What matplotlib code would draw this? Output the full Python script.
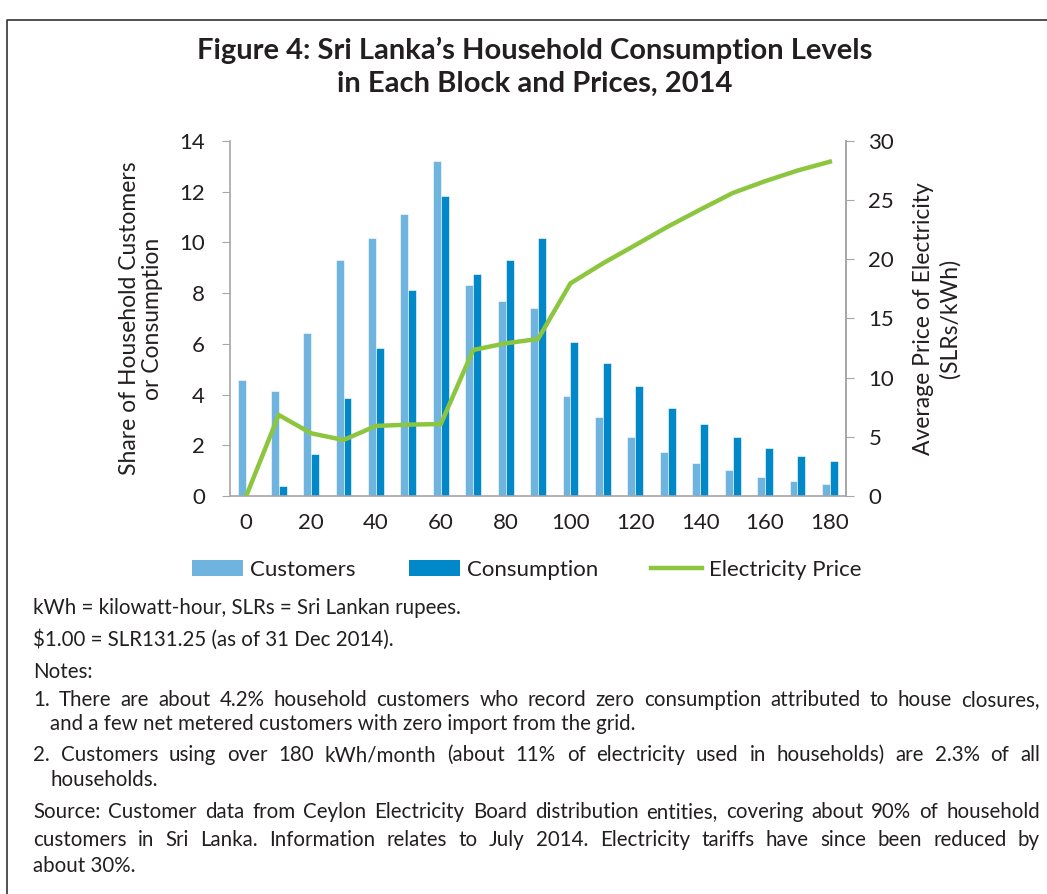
import numpy as np
import matplotlib.pyplot as plt
from matplotlib.patches import Patch
from matplotlib.lines import Line2D
from matplotlib.font_manager import FontProperties

FAMILY = ['Lato', 'DejaVu Sans']
plt.rcParams['font.family'] = FAMILY

# kWh/month blocks
blocks = [0, 10, 20, 30, 40, 50, 60, 70, 80, 90,
          100, 110, 120, 130, 140, 150, 160, 170, 180]
customers = [4.57, 4.14, 6.41, 9.31, 10.16, 11.11, 13.22, 8.32, 7.70, 7.41,
             3.96, 3.13, 2.34, 1.72, 1.31, 1.01, 0.76, 0.60, 0.47]
consumption = [0.0, 0.38, 1.67, 3.88, 5.82, 8.12, 11.83, 8.75, 9.29, 10.17,
               6.06, 5.26, 4.34, 3.47, 2.83, 2.34, 1.88, 1.59, 1.37]
price = [0.0, 6.85, 5.30, 4.73, 5.92, 6.03, 6.08, 12.34, 12.9, 13.27,
         17.97, 19.66, 21.2, 22.76, 24.2, 25.6, 26.6, 27.5, 28.25]
xlabels = [str(b) if b % 20 == 0 else '' for b in blocks]

c_light = '#6fb4de'
c_dark = '#0088c8'
c_green = '#8cc63f'
c_axis = '#a6a6a6'
c_text = '#231f20'

W, H = 1047, 894
fig = plt.figure(figsize=(W / 100, H / 100), dpi=100)
ax = fig.add_axes([0.2197, 0.4452, 0.5884, 0.3971])

x = np.arange(len(blocks))
w = 0.245
ax.bar(x - w/2, customers, w, color=c_light, edgecolor='white', linewidth=0.4)
ax.bar(x + w/2, consumption, w, color=c_dark, edgecolor='white', linewidth=0.4)
ax.set_xlim(-0.5, len(blocks) - 0.5)
ax.set_ylim(0, 14)
ax.set_yticks(range(0, 15, 2))
ax.set_xticks(x)
ax.set_xticklabels(xlabels)
ax.tick_params(axis='x', length=0, pad=12, labelsize=16, labelcolor=c_text)
ax.tick_params(axis='y', length=6, color=c_axis, labelsize=16, labelcolor=c_text, pad=12)
ax.spines['top'].set_visible(False)
for s in ['left', 'bottom', 'right']:
    ax.spines[s].set_color(c_axis)
    ax.spines[s].set_linewidth(1.2)
ax.set_ylabel('Share of Household Customers\nor Consumption', fontsize=16.5,
              color=c_text, labelpad=12, linespacing=1.1)

ax2 = ax.twinx()
ax2.plot(x, price, color=c_green, linewidth=3.2, solid_joinstyle='miter')
ax2.set_ylim(0, 30)
ax2.set_yticks(range(0, 31, 5))
ax2.tick_params(axis='y', length=6, color=c_axis, labelsize=16, labelcolor=c_text, pad=10)
for s in ['top', 'left', 'bottom']:
    ax2.spines[s].set_visible(False)
ax2.spines['right'].set_color(c_axis)
ax2.spines['right'].set_linewidth(1.2)
ax2.set_ylabel('Average Price of Electricity\n(SLRs/kWh)', fontsize=16.5,
               color=c_text, rotation=90, labelpad=14, linespacing=1.25)

fig.text(0.511, 1 - 67 / H, "Figure 4: Sri Lanka\u2019s Household Consumption Levels\nin Each Block and Prices, 2014",
         ha='center', va='center', fontsize=21, fontweight='bold', color=c_text,
         linespacing=1.35)

handles = [Patch(facecolor=c_light), Patch(facecolor=c_dark),
           Line2D([0], [0], color=c_green, linewidth=3.2)]
fig.legend(handles, ['Customers', 'Consumption', 'Electricity Price'],
           loc='center', bbox_to_anchor=(527 / W, 1 - 570 / H), ncol=3,
           frameon=False, fontsize=16, handlelength=2.3, handleheight=0.75,
           handletextpad=0.3, columnspacing=2.4, labelcolor=c_text)

# baseline y (px from top), left x (px), text, justified?
notes = [
    (614, 33, 'kWh = kilowatt-hour, SLRs = Sri Lankan rupees.', False),
    (646, 33, '$1.00 = SLR131.25 (as of 31 Dec 2014).', False),
    (678, 33, 'Notes:', False),
    (706, 33, '1. There are about 4.2% household customers who record zero consumption attributed to house closures,', True),
    (730, 50, 'and a few net metered customers with zero import from the grid.', False),
    (761, 33, '2. Customers using over 180 kWh/month (about 11% of electricity used in households) are 2.3% of all', True),
    (786, 50, 'households.', False),
    (818, 33, 'Source: Customer data from Ceylon Electricity Board distribution entities, covering about 90% of household', True),
    (846, 33, 'customers in Sri Lanka. Information relates to July 2014. Electricity tariffs have since been reduced by', True),
    (872, 33, 'about 30%.', False),
]
note_size = 14.8
right_px = 1040
prop = FontProperties(family=FAMILY, size=note_size)


def ink_shift(words):
    # draw each word alone on a scratch canvas and check where its ink really
    # ends up against the baseline, so single words line up on one line
    band = 60
    hpx = band * len(words)
    sf = plt.figure(figsize=(8, hpx / 100), dpi=100)
    for i, wd in enumerate(words):
        sf.text(0.02, 1 - (i * band + 40) / hpx, wd, ha='left', va='baseline',
                fontsize=note_size, color='black')
    sf.canvas.draw()
    img = np.asarray(sf.canvas.buffer_rgba())[:, :, 0]
    r = sf.canvas.get_renderer()
    out = []
    for i, wd in enumerate(words):
        _, _, d = r.get_text_width_height_descent(wd, prop, ismath=False)
        rows = np.where((img[i * band:(i + 1) * band] < 160).any(axis=1))[0]
        s = (rows.max() + 1 - 40 - d) if len(rows) else 0.0
        out.append(s if abs(s) >= 1.5 else 0.0)
    plt.close(sf)
    return out


renderer = fig.canvas.get_renderer()
for ypx, xpx, t, just in notes:
    y = 1 - ypx / H
    if not just:
        fig.text(xpx / W, y, t, ha='left', va='baseline',
                 fontsize=note_size, color=c_text)
        continue
    words = t.split(' ')
    shifts = ink_shift(words)
    arts = [fig.text(0, y, wd, ha='left', va='baseline',
                     fontsize=note_size, color=c_text) for wd in words]
    widths = [a.get_window_extent(renderer).width for a in arts]
    gap = (right_px - xpx - sum(widths)) / (len(words) - 1)
    pos = xpx
    for a, wd, sh in zip(arts, widths, shifts):
        a.set_position((pos / W, 1 - (ypx - sh) / H))
        pos += wd + gap

# frame lines (left, top)
fig.add_artist(Line2D([7 / W, 7 / W, 1.0], [0.0, 1 - 20 / H, 1 - 20 / H],
                      transform=fig.transFigure, color='#333333', linewidth=1.2))

fig.savefig('out.png', dpi=100)
